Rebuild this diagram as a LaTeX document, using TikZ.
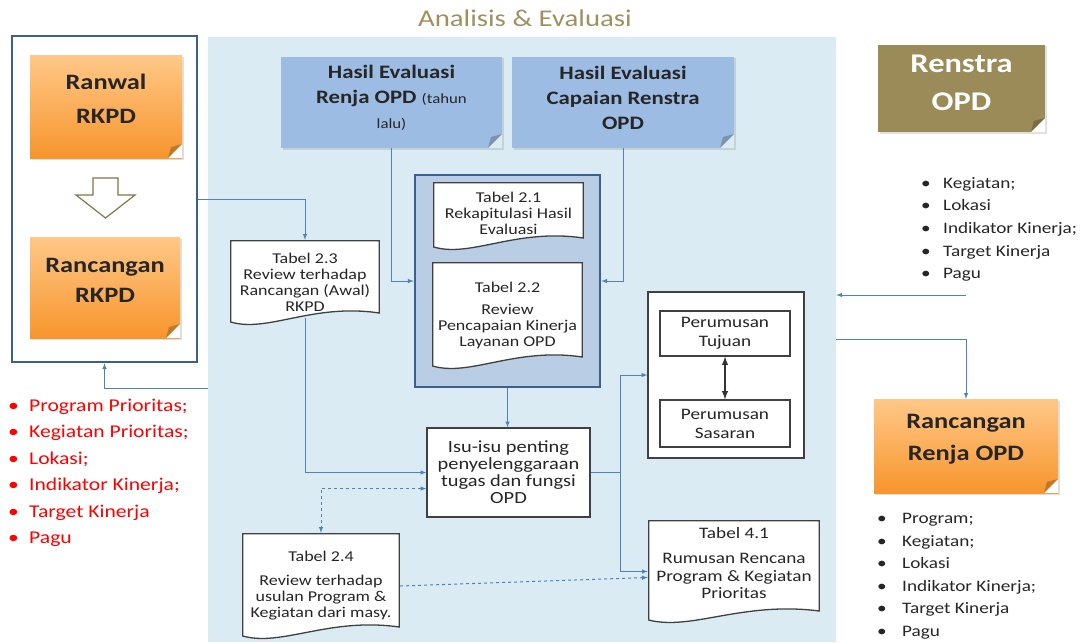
\documentclass[tikz,border=0pt]{standalone}
\usepackage{fontspec}
\setmainfont{Carlito}[FakeStretch=1.2]
\usepackage{tikz}
\usetikzlibrary{arrows}
\usetikzlibrary{shapes}
\usetikzlibrary{calc}
\usetikzlibrary{positioning}
\usetikzlibrary{shadows}
\definecolor{panelblue}{HTML}{DAEBF3}
\definecolor{grpblue}{HTML}{B9CDE5}
\definecolor{frameblue}{HTML}{3D5F8E}
\definecolor{hasilblue}{HTML}{9DBCE3}
\definecolor{flowblue}{HTML}{4F81BD}
\definecolor{olive}{HTML}{9A8B58}
\definecolor{titlegold}{HTML}{A09060}
\definecolor{orangetop}{HTML}{FFC887}
\definecolor{orangebot}{HTML}{F7952D}
\tikzstyle{flow}=[draw=flowblue,->,>=latex,line width=1pt]
\tikzstyle{dflow}=[flow,dashed]
\tikzstyle{plainbox}=[rectangle,draw=black!75,line width=1.3pt,fill=white,align=center,inner sep=0pt]
\tikzstyle{bullets}=[align=left,inner sep=0pt,anchor=north west]
\tikzset{
  note/.style={rectangle,inner sep=0pt,align=center,
    drop shadow={opacity=0.25,shadow xshift=1.5pt,shadow yshift=-1.5pt},
    path picture={
      \fill[#1] ([xshift=-14pt]path picture bounding box.south east) -- (path picture bounding box.south east)
        -- ([yshift=14pt]path picture bounding box.south east) -- cycle;
      \fill[black,opacity=0.22] ([xshift=-14pt]path picture bounding box.south east)
        -- ([yshift=14pt]path picture bounding box.south east)
        -- ([xshift=-11pt,yshift=11pt]path picture bounding box.south east) -- cycle;}},
  note/.default=white,
  tabdoc/.style={rectangle,inner sep=0pt,align=center,text=black!85,path picture={
      \coordinate (dnw) at ([xshift=0.7pt,yshift=-0.7pt]path picture bounding box.north west);
      \coordinate (dne) at ([xshift=-0.7pt,yshift=-0.7pt]path picture bounding box.north east);
      \coordinate (dse) at ([xshift=-0.7pt]path picture bounding box.south east);
      \coordinate (dsw) at ([xshift=0.7pt]path picture bounding box.south west);
      \filldraw[fill=white,draw=black!75,line width=1.3pt] (dnw) -- (dne) -- ($(dse)+(0pt,12pt)$)
        .. controls ($(dse)!0.45!(dsw)+(0pt,22pt)$) and ($(dse)!0.75!(dsw)+(0pt,-8pt)$) .. ($(dsw)+(0pt,3pt)$) -- cycle;}}
}
\newcommand{\rkpdsize}{\bfseries\fontsize{22}{34}\selectfont}
\newcommand{\renjasize}{\bfseries\fontsize{22}{32}\selectfont}
\newcommand{\renstrasize}{\bfseries\fontsize{27}{38}\selectfont}
\newcommand{\hasilsize}{\bfseries\fontsize{19}{25}\selectfont}
\newcommand{\tahunsize}{\mdseries\fontsize{14}{16}\selectfont}
\newcommand{\tabsize}{\fontsize{15}{16}\selectfont}
\newcommand{\isusize}{\fontsize{17}{17}\selectfont}
\newcommand{\rumussize}{\fontsize{16}{19}\selectfont}
\newcommand{\listsize}{\fontsize{16}{22.6}\selectfont}
\newcommand{\redsize}{\fontsize{18}{26.4}\selectfont}
\newcommand{\judulsize}{\fontsize{24}{28}\selectfont}
\newcommand{\blt}[1]{\makebox[#1][l]{\textbullet}}
\newcommand{\lift}[1]{\\[-#1]\mbox{}}

\begin{document}
\begin{tikzpicture}[x=1pt,y=-1pt]
\useasboundingbox (0,0) rectangle (1091,642);
% panel analisis
\node[fill=panelblue,inner sep=0pt,minimum width=628,minimum height=605] (panel) at (522,339.5) {};
\node[font=\judulsize,text=titlegold] (judul) at (525,18) {Analisis \& Evaluasi};
% RKPD
\node[draw=frameblue,line width=2.5pt,fill=white,minimum width=185,minimum height=326] (rkpdframe) at (104.5,199) {};
\node[note,top color=orangetop,bottom color=orangebot,minimum width=152,minimum height=102,font=\rkpdsize,text=black!85] (ranwal) at (106,107) {Ranwal\\RKPD\lift{18pt}};
\node[note,top color=orangetop,bottom color=orangebot,minimum width=150,minimum height=101,font=\rkpdsize,text=black!85] (rancrkpd) at (105,287.5) {Rancangan\\[-4pt]RKPD\lift{19pt}};
\draw[draw=olive!85!black,fill=white,line width=1.2pt] (93,178) -- (118,178) -- (118,195) -- (135,195)
  -- (105.5,218) -- (76,195) -- (93,195) -- cycle;
% hasil evaluasi
\node[note=panelblue,fill=hasilblue,minimum width=221,minimum height=91,font=\hasilsize,text=black!85] (hrenja) at (391.5,102.5)
  {Hasil Evaluasi\\Renja OPD {\tahunsize(tahun}\\{\tahunsize lalu)}\lift{13.5pt}};
\node[note=panelblue,fill=hasilblue,minimum width=222,minimum height=91,font=\hasilsize,text=black!85] (hcapai) at (623,102.5)
  {Hasil Evaluasi\\Capaian Renstra\\OPD\lift{15pt}};
% tabel
\node[draw=frameblue,line width=2.5pt,fill=grpblue,minimum width=185,minimum height=212] (grp) at (507.5,281) {};
\node[tabdoc,minimum width=151,minimum height=68,font=\tabsize] (t21) at (508.5,216) {Tabel 2.1\\Rekapitulasi Hasil\\Evaluasi\lift{10pt}};
\node[tabdoc,minimum width=151,minimum height=107,font=\tabsize] (t22) at (507.5,315.5) {Tabel 2.2\\[6pt]Review\\Pencapaian Kinerja\\Layanan OPD};
\node[tabdoc,minimum width=150,minimum height=85,font=\tabsize] (t23) at (305,282.5) {Tabel 2.3\\Review terhadap\\Rancangan (Awal)\\RKPD};
\node[tabdoc,minimum width=158,minimum height=106,font=\tabsize] (t24) at (321,586) {Tabel 2.4\\[8pt]Review terhadap\\usulan Program \&\\Kegiatan dari masy.};
\node[plainbox,minimum width=163,minimum height=89,font=\isusize,text=black!85] (isu) at (508.5,472.5) {Isu-isu penting\\penyelenggaraan\\tugas dan fungsi\\OPD};
\node[plainbox,minimum width=156,minimum height=166] (perum) at (726,375) {};
\node[plainbox,minimum width=130,minimum height=45,font=\rumussize,text=black!85] (tujuan) at (725,333.5) {Perumusan\\Tujuan};
\node[plainbox,minimum width=130,minimum height=47,font=\rumussize,text=black!85] (sasaran) at (725,423.5) {Perumusan\\Sasaran};
\node[tabdoc,minimum width=172,minimum height=103,font=\fontsize{16}{17.5}\selectfont] (t41) at (734,571.5) {Tabel 4.1\\[8pt]Rumusan Rencana\\Program \& Kegiatan\\Prioritas\lift{0pt}};
% renstra dan renja
\node[note,fill=olive,minimum width=167,minimum height=87,font=\renstrasize,text=white] (renstra) at (961.5,88.5) {Renstra\\OPD\lift{26pt}};
\node[note,top color=orangetop,bottom color=orangebot,minimum width=184,minimum height=94,font=\renjasize,text=black!85] (renja) at (966,446) {Rancangan\\Renja OPD\lift{15.5pt}};
% daftar
\node[bullets,font=\listsize,text=black!85] (rslist) at (921,177) {\blt{22pt}Kegiatan;\\\blt{22pt}Lokasi\\\blt{22pt}Indikator Kinerja;\\\blt{22pt}Target Kinerja\\\blt{22pt}Pagu};
\node[bullets,font=\redsize,text=red] (redlist) at (8,399) {\blt{21pt}Program Prioritas;\\\blt{21pt}Kegiatan Prioritas;\\\blt{21pt}Lokasi;\\\blt{21pt}Indikator Kinerja;\\\blt{21pt}Target Kinerja\\\blt{21pt}Pagu};
\node[bullets,font=\listsize,text=black!85] (rjlist) at (877,513) {\blt{25pt}Program;\\\blt{25pt}Kegiatan;\\\blt{25pt}Lokasi\\\blt{25pt}Indikator Kinerja;\\\blt{25pt}Target Kinerja\\\blt{25pt}Pagu};
% alur
\coordinate (rsend) at (966,295);
\coordinate (pback) at (208,388);
\draw[flow] (rkpdframe.east) -| (t23.north);
\draw[flow] (hrenja.south) |- (grp.west);
\draw[flow] (hcapai.south) |- (grp.east);
\draw[flow] (grp.south) -- (grp.south |- isu.north);
\draw[flow] ([yshift=7pt]t23.south) |- (isu.west);
\draw[dflow,<->] ([yshift=-16pt]isu.west) -| (t24.north);
\draw[dflow] (t24.east) -- ([yshift=-6pt]t41.west);
\draw[flow] (isu.east) -- ++(30,0) |- (perum.west);
\draw[flow] (isu.east) -- ++(30,0) |- (t41.west);
\draw[<->,>=latex,line width=1.8pt,black!80] (tujuan) -- (sasaran);
\draw[flow] (rsend) -- (rsend -| panel.east);
\draw[flow] (panel.east) -| (renja.north);
\draw[flow] (pback) -| (rkpdframe.south);
\end{tikzpicture}
\end{document}
